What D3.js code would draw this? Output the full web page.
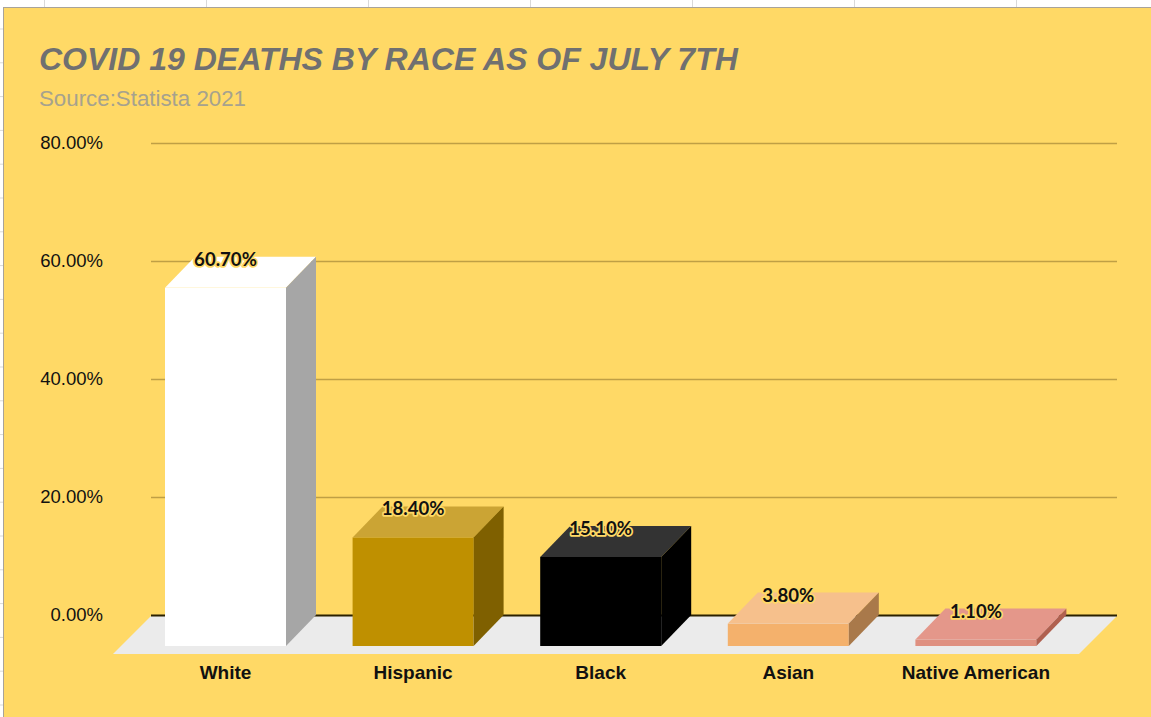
<!DOCTYPE html>
<html lang="en">
<head>
    <title>Covid 19 deaths by race</title>
    <script src="https://d3js.org/d3.v7.min.js"></script>
    <style>
        body { margin: 0; background: #fff; }
        svg { display: block; }
    </style>
</head>
<body>

<script>
    // data
    const races = ['White', 'Hispanic', 'Black', 'Asian', 'Native American'];
    const deaths = [60.7, 18.4, 15.1, 3.8, 1.1];
    const yTicks = [0, 20, 40, 60, 80];
    const frontColors = ['#ffffff', '#bf9000', '#000000', '#f4b16c', '#df9080'];
    const topColors = ['#ffffff', '#cba434', '#333333', '#f6c08c', '#e4978a'];
    const sideColors = ['#a6a6a6', '#7f6000', '#000000', '#a9794a', '#b0604f'];

    const W = 1151, H = 717;
    const depthX = 30, depthY = 31;

    const svg = d3.select("body").append("svg").attr("width", W).attr("height", H);

    // spreadsheet cells peeking out behind the chart
    const cells = svg.append("g").attr("stroke", "#d9d9d9").attr("stroke-width", 1);
    d3.range(44, W, 162).forEach(x => {
        cells.append("line").attr("x1", x + 0.5).attr("x2", x + 0.5).attr("y1", 0).attr("y2", 8);
    });
    d3.range(29, H, 33.8).forEach(y => {
        cells.append("line").attr("x1", 0).attr("x2", 3).attr("y1", y).attr("y2", y);
    });

    // chart area
    svg.append("rect")
            .attr("x", 3.5).attr("y", 7.5)
            .attr("width", W).attr("height", H)
            .attr("fill", "#ffd966")
            .attr("stroke", "#a8a39a");

    svg.append("text")
            .attr("x", 39).attr("y", 70)
            .text("COVID 19 DEATHS BY RACE AS OF JULY 7TH")
            .style("font-family", "'Liberation Sans', Arial, sans-serif")
            .style("font-size", "32px")
            .style("font-weight", "bold")
            .style("font-style", "italic")
            .style("fill", "#707070");

    svg.append("text")
            .attr("x", 39).attr("y", 106)
            .text("Source:Statista 2021")
            .style("font-family", "'Liberation Sans', Arial, sans-serif")
            .style("font-size", "22.3px")
            .style("fill", "#a6a28e");

    const yScale = d3.scaleLinear().domain([0, 80]).range([615, 143]);
    const xScale = d3.scaleBand()
            .domain(races)
            .range([98.4, 1103])
            .paddingInner(0.355)
            .paddingOuter(0.355);

    const wallLeft = 151, wallRight = 1117;

    // gridlines + tick labels
    const yAxis = d3.axisLeft(yScale)
            .tickValues(yTicks)
            .tickFormat(d => d3.format(".2f")(d) + "%")
            .tickSizeInner(-(wallRight - wallLeft))
            .tickSizeOuter(0)
            .tickPadding(48);

    const gy = svg.append("g")
            .attr("transform", `translate(${wallLeft},0)`)
            .call(yAxis);
    gy.select(".domain").remove();
    gy.selectAll(".tick line")
            .attr("stroke", d => d === 0 ? "#2a2100" : "#bf9f45")
            .attr("stroke-width", d => d === 0 ? 2 : 1.3);
    gy.selectAll(".tick text")
            .style("font-family", "'Liberation Sans', Arial, sans-serif")
            .style("font-size", "18.5px")
            .style("fill", "#111");

    // floor
    const y0 = yScale(0);
    svg.insert("polygon", "g:last-of-type")
            .attr("points", [
                [wallLeft, y0 + 1], [wallRight, y0 + 1],
                [wallRight - 38, y0 + 39], [wallLeft - 38, y0 + 39]
            ].map(p => p.join(",")).join(" "))
            .attr("fill", "#ebebeb");

    // 3D bars
    const bars = svg.append("g").selectAll("g")
            .data(deaths).enter()
            .append("g");

    const pts = a => a.map(p => p.join(",")).join(" ");

    bars.append("rect")
            .attr("x", (d, i) => xScale(races[i]))
            .attr("y", d => yScale(d) + depthY)
            .attr("width", xScale.bandwidth())
            .attr("height", d => y0 - yScale(d))
            .attr("fill", (d, i) => frontColors[i]);

    bars.append("polygon")
            .attr("points", (d, i) => {
                const x0 = xScale(races[i]), x1 = x0 + xScale.bandwidth(), yt = yScale(d) + depthY;
                return pts([[x0, yt], [x0 + depthX, yt - depthY], [x1 + depthX, yt - depthY], [x1, yt]]);
            })
            .attr("fill", (d, i) => topColors[i]);

    bars.append("polygon")
            .attr("points", (d, i) => {
                const x1 = xScale(races[i]) + xScale.bandwidth(), yt = yScale(d) + depthY, yb = y0 + depthY;
                return pts([[x1, yt], [x1 + depthX, yt - depthY], [x1 + depthX, yb - depthY], [x1, yb]]);
            })
            .attr("fill", (d, i) => sideColors[i]);

    // value labels with yellow halo
    bars.append("text")
            .attr("x", (d, i) => xScale(races[i]) + xScale.bandwidth() / 2)
            .attr("y", d => yScale(d) + 2)
            .attr("text-anchor", "middle")
            .attr("dominant-baseline", "central")
            .text(d => d3.format(".2f")(d) + "%")
            .style("font-family", "Lato, sans-serif")
            .style("font-weight", "bold")
            .style("font-size", "18.6px")
            .style("fill", "#111")
            .style("stroke", "#ffd966")
            .style("stroke-width", 3.5)
            .style("stroke-linejoin", "round")
            .style("paint-order", "stroke");

    // category labels
    svg.append("g").selectAll("text")
            .data(races).enter()
            .append("text")
            .attr("x", d => xScale(d) + xScale.bandwidth() / 2)
            .attr("y", 679)
            .attr("text-anchor", "middle")
            .text(d => d)
            .style("font-family", "'Liberation Sans', Arial, sans-serif")
            .style("font-weight", "bold")
            .style("font-size", "19px")
            .style("fill", "#111");
</script>

</body>
</html>
